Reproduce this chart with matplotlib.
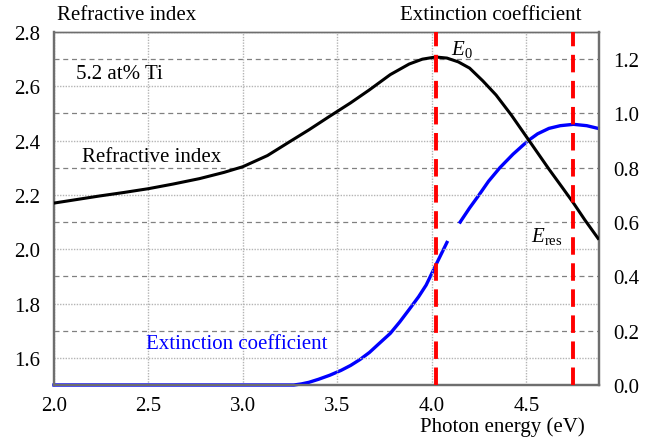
import matplotlib
matplotlib.use('Agg')
import matplotlib.pyplot as plt
import numpy as np

plt.rcParams['font.family'] = ['Liberation Serif', 'DejaVu Serif']
plt.rcParams['mathtext.fontset'] = 'custom'
plt.rcParams['mathtext.rm'] = 'Liberation Serif'
plt.rcParams['mathtext.it'] = 'Liberation Serif:italic'

# Refractive index (left axis)
n_energy = [2.0, 2.12, 2.24, 2.37, 2.5, 2.63, 2.77, 2.9, 3.0, 3.13, 3.25, 3.35, 3.46,
            3.57, 3.67, 3.78, 3.88, 3.95, 4.02, 4.08, 4.14, 4.2, 4.27, 4.34, 4.42,
            4.5, 4.56, 4.62, 4.69, 4.75, 4.81, 4.88]
n_values = [2.17, 2.183, 2.196, 2.209, 2.223, 2.24, 2.26, 2.283, 2.304, 2.345, 2.397, 2.44, 2.49,
            2.539, 2.587, 2.643, 2.682, 2.70, 2.708, 2.704, 2.69, 2.667, 2.62, 2.568, 2.495,
            2.415, 2.355, 2.295, 2.228, 2.17, 2.108, 2.04]

# Extinction coefficient (right axis), NaN marks the break in the curve
k_energy = [2.0, 3.27, 3.31, 3.35, 3.4, 3.46, 3.52, 3.57, 3.62, 3.67, 3.72, 3.78, 3.83,
            3.88, 3.93, 3.97, 4.02, 4.08,
            4.11,
            4.15, 4.2, 4.25, 4.3, 4.36, 4.43, 4.51, 4.56, 4.62, 4.68, 4.75, 4.82, 4.88]
k_values = [0.0, 0.0, 0.004, 0.01, 0.021, 0.036, 0.054, 0.072, 0.094, 0.12, 0.152, 0.19, 0.232,
            0.278, 0.325, 0.368, 0.44, 0.525,
            np.nan,
            0.60, 0.652, 0.70, 0.75, 0.80, 0.85, 0.90, 0.925, 0.945, 0.955, 0.96, 0.955, 0.945]

E0 = 4.02
E_res = 4.75

x_ticks = [2.0, 2.5, 3.0, 3.5, 4.0, 4.5]
n_ticks = [1.6, 1.8, 2.0, 2.2, 2.4, 2.6, 2.8]
k_ticks = [0.0, 0.2, 0.4, 0.6, 0.8, 1.0, 1.2]

W, H = 656, 439
FS = 15

fig = plt.figure(figsize=(W / 100, H / 100), dpi=100)
ax = fig.add_axes([54 / W, 1 - 386 / H, (599 - 54) / W, (386 - 33) / H])
ax2 = ax.twinx()
ax.set_zorder(ax2.get_zorder() + 1)
ax.patch.set_visible(False)

ax.set_xlim(2.0, 4.885)
ax.set_ylim(1.5, 2.8)
ax2.set_ylim(0.0, 1.3)

# grid: dotted for left ticks and x, dashed for right ticks
ax.set_xticks(x_ticks)
ax.set_xticklabels([f'{v:.1f}' for v in x_ticks])
ax.set_yticks(n_ticks)
ax.set_yticklabels([f'{v:.1f}' for v in n_ticks])
ax2.set_yticks(k_ticks)
ax2.set_yticklabels([f'{v:.1f}' for v in k_ticks])
ax.grid(True, color='#b4b4b4', linestyle=(0, (1, 1)), linewidth=1.0)
ax2.yaxis.grid(True, color='#808080', linestyle=(0, (4, 3)), linewidth=0.9)
ax2.set_axisbelow(True)

ax.tick_params(axis='both', length=0, labelsize=FS, pad=10)
ax.tick_params(axis='x', pad=8)
ax2.tick_params(axis='y', length=0, labelsize=FS, pad=10)

for a in (ax, ax2):
    for side in ('left', 'bottom', 'right'):
        a.spines[side].set_color('#6e6e6e')
        a.spines[side].set_linewidth(1.6)
    a.spines['top'].set_color('#6e6e6e')
    a.spines['top'].set_linewidth(1.0)

ax2.plot(k_energy, k_values, color='#0000ff', linewidth=2.4, clip_on=False, zorder=3)
ax.plot(n_energy, n_values, color='black', linewidth=2.2, zorder=3)

for e in (E0, E_res):
    ax.axvline(e, color='#ff0000', linewidth=2.8, dashes=(4.5, 2.2), zorder=4)

# labels
fig.text(57 / W, 1 - 16 / H, 'Refractive index', fontsize=FS, ha='left', va='center')
fig.text(582 / W, 1 - 16 / H, 'Extinction coefficient', fontsize=FS, ha='right', va='center')
fig.text(585 / W, 1 - 427 / H, 'Photon energy (eV)', fontsize=FS, ha='right', va='center')
fig.text(76 / W, 1 - 75 / H, '5.2 at% Ti', fontsize=FS, ha='left', va='center')
fig.text(82 / W, 1 - 158 / H, 'Refractive index', fontsize=FS, ha='left', va='center')
fig.text(146 / W, 1 - 345 / H, 'Extinction coefficient', fontsize=FS, ha='left',
         va='center', color='#0000ff')
fig.text(451 / W, 1 - 50 / H, r'$E_0$', fontsize=FS, ha='left', va='center')
fig.text(531 / W, 1 - 237 / H, r'$E_{\mathrm{res}}$', fontsize=FS, ha='left', va='center')

fig.savefig('out.png', dpi=100)
